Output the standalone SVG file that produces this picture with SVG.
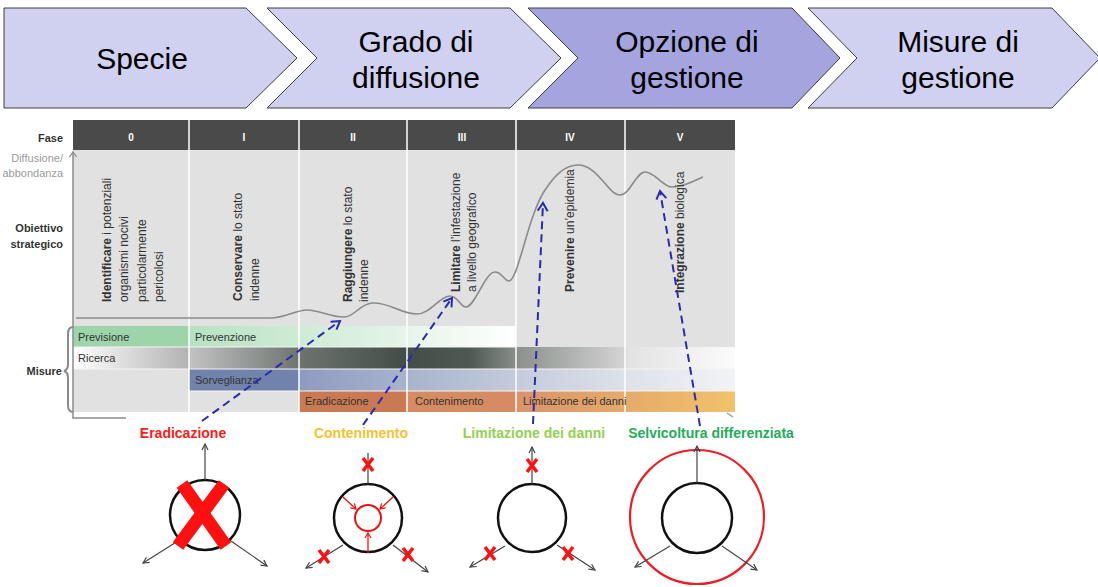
<svg xmlns="http://www.w3.org/2000/svg" width="1098" height="587" viewBox="0 0 1098 587">
<defs>
<style>
.chev{fill:#d0d0f0;stroke:#3c3c3c;stroke-width:1}
.sel{fill:#a4a4de}
.ct{font-family:"Liberation Sans",Arial,sans-serif;font-size:30px;fill:#000;text-anchor:middle}
.lab{font-family:"Liberation Sans",Arial,sans-serif;font-size:11px;fill:#333;text-anchor:end}
.gl{font-family:"Liberation Sans",Arial,sans-serif;font-size:11px;fill:#9a9a9a;text-anchor:end}
.b{font-weight:bold}
.hd{font-family:"Liberation Sans",Arial,sans-serif;font-size:10px;font-weight:bold;fill:#fff;text-anchor:middle}
.rt{font-family:"Liberation Sans",Arial,sans-serif;font-size:12px;fill:#333}
.bt{font-family:"Liberation Sans",Arial,sans-serif;font-size:11px;fill:#333}
.sep{stroke:#fff;stroke-width:1.5}
.hsep{stroke:#f4f4f4;stroke-width:1}
.dash{fill:none;stroke:#2a2ab0;stroke-width:2;stroke-dasharray:8 5;marker-end:url(#ba)}
.ic{fill:none;stroke:#111;stroke-width:2.5}
.ga{fill:none;stroke:#444;stroke-width:1.2;marker-end:url(#ga)}
.gl2{fill:none;stroke:#444;stroke-width:1.2}
.rx{stroke:#ff1010;stroke-width:3.5}
.ra{fill:none;stroke:#ee1111;stroke-width:1.3;marker-end:url(#ra)}
.cap{font-family:"Liberation Sans",Arial,sans-serif;font-size:14px;font-weight:bold;text-anchor:middle}
</style>
<marker id="ba" markerUnits="userSpaceOnUse" markerWidth="14" markerHeight="14" refX="10" refY="6" orient="auto">
<path d="M2,1 L10,6 L2,11" fill="none" stroke="#2a2ab0" stroke-width="2" stroke-dasharray="none"/>
</marker>
<marker id="ga" markerUnits="userSpaceOnUse" markerWidth="10" markerHeight="10" refX="7" refY="4" orient="auto">
<path d="M1,1 L7,4 L1,7" fill="none" stroke="#444" stroke-width="1.2"/>
</marker>
<marker id="ra" markerUnits="userSpaceOnUse" markerWidth="10" markerHeight="10" refX="6" refY="4" orient="auto">
<path d="M1,1 L6,4 L1,7" fill="none" stroke="#ee1111" stroke-width="1.2"/>
</marker>
<linearGradient id="gPrev" x1="189" y1="0" x2="516" y2="0" gradientUnits="userSpaceOnUse">
<stop offset="0" stop-color="#b6e2c1"/><stop offset="0.5" stop-color="#d9f0de"/><stop offset="1" stop-color="#ffffff"/>
</linearGradient>
<linearGradient id="gRic" x1="73" y1="0" x2="735" y2="0" gradientUnits="userSpaceOnUse">
<stop offset="0" stop-color="#ffffff"/><stop offset="0.175" stop-color="#b2b2b2"/><stop offset="0.176" stop-color="#c2c2c2"/>
<stop offset="0.34" stop-color="#6e7571"/><stop offset="0.5" stop-color="#434d48"/><stop offset="0.6" stop-color="#4f5954"/>
<stop offset="0.67" stop-color="#8a908c"/><stop offset="0.83" stop-color="#d2d2d2"/><stop offset="0.84" stop-color="#e2e2e2"/><stop offset="1" stop-color="#fbfbfb"/>
</linearGradient>
<linearGradient id="gSorv" x1="299" y1="0" x2="735" y2="0" gradientUnits="userSpaceOnUse">
<stop offset="0" stop-color="#8d9bbf"/><stop offset="0.25" stop-color="#a9b3cd"/><stop offset="0.5" stop-color="#c4cbdb"/><stop offset="0.75" stop-color="#dde1e9"/><stop offset="1" stop-color="#f2f3f6"/>
</linearGradient>
<linearGradient id="gLim" x1="516" y1="0" x2="735" y2="0" gradientUnits="userSpaceOnUse">
<stop offset="0" stop-color="#d9936a"/><stop offset="1" stop-color="#f1c26a"/>
</linearGradient>
</defs>
<rect width="1098" height="587" fill="#fff"/>

<g id="chevron-specie">
<path class="chev" d="M4,8 L246,8 L297,58 L246,108 L4,108 Z"/>
<text class="ct" x="142" y="69">Specie</text>
</g>
<g id="chevron-grado">
<path class="chev" d="M267,8 L510,8 L561,58 L510,108 L267,108 L317,58 Z"/>
<text class="ct" x="416" y="52">Grado di</text>
<text class="ct" x="416" y="88">diffusione</text>
</g>
<g id="chevron-opzione">
<path class="chev sel" d="M528,8 L792,8 L840,58 L792,108 L528,108 L578,58 Z"/>
<text class="ct" x="687" y="52">Opzione di</text>
<text class="ct" x="687" y="88">gestione</text>
</g>
<g id="chevron-misure">
<path class="chev" d="M808,8 L1052,8 L1100,58 L1052,108 L808,108 L857,58 Z"/>
<text class="ct" x="958" y="52">Misure di</text>
<text class="ct" x="958" y="88">gestione</text>
</g>

<g id="phase-table">
<rect x="73" y="120" width="662" height="30" fill="#4a4a4a"/>
<rect x="73" y="150" width="662" height="262" fill="#e1e1e1"/>
<text class="hd" x="131" y="141">0</text>
<text class="hd" x="244" y="141">I</text>
<text class="hd" x="353" y="141">II</text>
<text class="hd" x="462" y="141">III</text>
<text class="hd" x="570" y="141">IV</text>
<text class="hd" x="680" y="141">V</text>
<text class="lab b" x="63" y="142">Fase</text>
<text class="gl" x="63" y="162">Diffusione/</text>
<text class="gl" x="63" y="177">abbondanza</text>
<text class="lab b" x="63" y="232">Obiettivo</text>
<text class="lab b" x="63" y="248">strategico</text>
<text class="lab b" x="62" y="375">Misure</text>

<rect x="73" y="326" width="116" height="21" fill="#9dd4aa"/>
<rect x="189" y="326" width="327" height="21" fill="url(#gPrev)"/>
<rect x="73" y="347" width="662" height="22" fill="url(#gRic)"/>
<rect x="189" y="369" width="110" height="22" fill="#7183aa"/>
<rect x="299" y="369" width="436" height="22" fill="url(#gSorv)"/>
<rect x="299" y="391" width="108" height="21" fill="#c97a52"/>
<rect x="407" y="391" width="109" height="21" fill="#d68c62"/>
<rect x="516" y="391" width="219" height="21" fill="url(#gLim)"/>
<line class="hsep" x1="73" y1="347" x2="516" y2="347"/>
<line class="hsep" x1="73" y1="369" x2="735" y2="369"/>
<line class="hsep" x1="189" y1="391" x2="735" y2="391"/>

<line class="sep" x1="189" y1="120" x2="189" y2="412"/>
<line class="sep" x1="299" y1="120" x2="299" y2="412"/>
<line class="sep" x1="407" y1="120" x2="407" y2="412"/>
<line class="sep" x1="516" y1="120" x2="516" y2="412"/>
<line class="sep" x1="625" y1="120" x2="625" y2="412"/>

<text class="bt" x="78" y="341">Previsione</text>
<text class="bt" x="195" y="341">Prevenzione</text>
<text class="bt" x="78" y="362">Ricerca</text>
<text class="bt" x="195" y="384">Sorveglianza</text>
<text class="bt" x="305" y="405">Eradicazione</text>
<text class="bt" x="415" y="405">Contenimento</text>
<text class="bt" x="523" y="405">Limitazione dei danni</text>

<path d="M73,153 L73,418 L126,418" fill="none" stroke="#8c8c8c" stroke-width="1.5"/>
<path d="M69.5,157 L73,152 L76.5,157" fill="none" stroke="#8c8c8c" stroke-width="1.3"/>
<line x1="727" y1="413" x2="733" y2="417" stroke="#9a9a9a" stroke-width="1.3"/>
<path d="M73,327 Q68,327 68,334 L68,364 Q68,370 64,371 Q68,372 68,378 L68,405 Q68,412 73,412" fill="none" stroke="#8a8a8a" stroke-width="2"/>

<path d="M76,318 L270,318 C285,318 296,310 307,310 C320,310 332,318 345,317 C355,316 360,304 372,303 C390,302 400,314 417,314 C430,314 440,296 450,296 C458,296 460,307 466,307 C475,307 485,272 495,272 C502,272 504,281 509,281 C518,281 528,215 545,190 C555,175 565,165 578,165 C598,165 608,195 620,195 C630,195 636,172 645,172 C655,172 663,187 672,187 C685,187 695,180 703,177" fill="none" stroke="#8a8a8a" stroke-width="1.6"/>

<text class="rt" transform="translate(111,302) rotate(-90)"><tspan class="b">Identificare</tspan> i potenziali</text>
<text class="rt" transform="translate(128,302) rotate(-90)">organismi nocivi</text>
<text class="rt" transform="translate(146,302) rotate(-90)">particolarmente</text>
<text class="rt" transform="translate(163,302) rotate(-90)">pericolosi</text>
<text class="rt" transform="translate(242,301) rotate(-90)"><tspan class="b">Conservare</tspan> lo stato</text>
<text class="rt" transform="translate(259,301) rotate(-90)">indenne</text>
<text class="rt" transform="translate(352,302) rotate(-90)"><tspan class="b">Raggiungere</tspan> lo stato</text>
<text class="rt" transform="translate(368,302) rotate(-90)">indenne</text>
<text class="rt" transform="translate(460,292) rotate(-90)"><tspan class="b">Limitare</tspan> l’infestazione</text>
<text class="rt" transform="translate(476,292) rotate(-90)">a livello geografico</text>
<text class="rt" transform="translate(574,292) rotate(-90)"><tspan class="b">Prevenire</tspan> un’epidemia</text>
<text class="rt" transform="translate(684,293) rotate(-90)"><tspan class="b">Integrazione</tspan> biologica</text>
</g>

<g id="icon-eradicazione">
<text class="cap" x="183" y="438" fill="#ff1a1a">Eradicazione</text>
<circle class="ic" cx="205" cy="515" r="35"/>
<line class="ga" x1="205" y1="480" x2="205" y2="444"/>
<line class="ga" x1="178" y1="541" x2="143" y2="563"/>
<line class="ga" x1="231" y1="541" x2="267" y2="566"/>
<line x1="182" y1="484" x2="226" y2="546" stroke="#ff1010" stroke-width="13"/>
<line x1="224" y1="484" x2="178" y2="546" stroke="#ff1010" stroke-width="13"/>
</g>

<g id="icon-contenimento">
<text class="cap" x="361" y="438" fill="#f5c230">Contenimento</text>
<circle class="ic" cx="368" cy="518" r="34"/>
<line class="gl2" x1="368" y1="484" x2="368" y2="453"/>
<line class="ga" x1="343" y1="545" x2="306" y2="568"/>
<line class="ga" x1="393" y1="545" x2="428" y2="572"/>
<circle cx="368" cy="518" r="13" fill="none" stroke="#ee1111" stroke-width="2"/>
<line class="ra" x1="343" y1="497" x2="356" y2="509"/>
<line class="ra" x1="393" y1="497" x2="380" y2="509"/>
<line class="ra" x1="368" y1="553" x2="368" y2="533"/>
<line class="rx" x1="363" y1="458" x2="373" y2="471"/><line class="rx" x1="373" y1="458" x2="363" y2="471"/>
<line class="rx" x1="319" y1="550" x2="329" y2="563"/><line class="rx" x1="329" y1="550" x2="319" y2="563"/>
<line class="rx" x1="403" y1="548" x2="413" y2="561"/><line class="rx" x1="413" y1="548" x2="403" y2="561"/>
</g>

<g id="icon-limitazione">
<text class="cap" x="534" y="438" fill="#92d050">Limitazione dei danni</text>
<circle class="ic" cx="532" cy="518" r="34"/>
<line class="ga" x1="532" y1="484" x2="532" y2="447"/>
<line class="ga" x1="505" y1="546" x2="470" y2="567"/>
<line class="ga" x1="557" y1="545" x2="595" y2="570"/>
<line class="rx" x1="527" y1="459" x2="537" y2="472"/><line class="rx" x1="537" y1="459" x2="527" y2="472"/>
<line class="rx" x1="485" y1="547" x2="495" y2="560"/><line class="rx" x1="495" y1="547" x2="485" y2="560"/>
<line class="rx" x1="563" y1="547" x2="573" y2="560"/><line class="rx" x1="573" y1="547" x2="563" y2="560"/>
</g>

<g id="icon-selvicoltura">
<text class="cap" x="711" y="438" fill="#1fae5a">Selvicoltura differenziata</text>
<circle cx="697" cy="517" r="67" fill="none" stroke="#ee1c24" stroke-width="2.2"/>
<circle class="ic" cx="697" cy="518" r="35"/>
<line class="ga" x1="697" y1="483" x2="697" y2="446"/>
<line class="ga" x1="670" y1="546" x2="635" y2="567"/>
<line class="ga" x1="722" y1="546" x2="757" y2="570"/>
</g>

<g id="connectors">
<line class="dash" x1="202" y1="421" x2="340" y2="321"/>
<line class="dash" x1="363" y1="425" x2="452" y2="298"/>
<line class="dash" x1="533" y1="424" x2="543" y2="203"/>
<line class="dash" x1="700" y1="426" x2="660" y2="191"/>
</g>
</svg>
